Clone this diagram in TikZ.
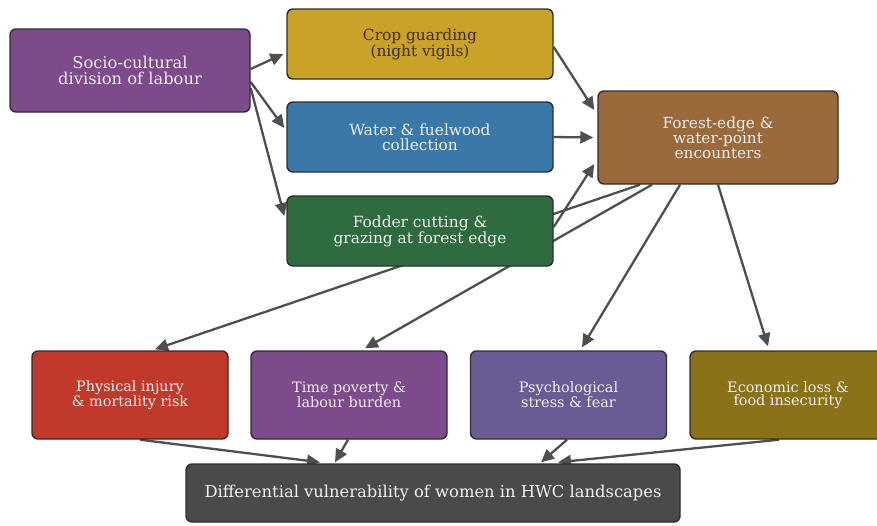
\documentclass[tikz,border=0pt]{standalone}
\usepackage{fontspec}
\setmainfont{DejaVu Serif}
\usetikzlibrary{arrows.meta,calc}
\pgfdeclarelayer{bg}
\pgfsetlayers{bg,main}
\definecolor{cSocio}{HTML}{7D4A8C}
\definecolor{cCrop}{HTML}{C9A227}
\definecolor{cWater}{HTML}{3A78A9}
\definecolor{cFodder}{HTML}{2E6B3E}
\definecolor{cForest}{HTML}{9A6A3D}
\definecolor{cPhys}{HTML}{C0392B}
\definecolor{cPsych}{HTML}{6B5B95}
\definecolor{cEcon}{HTML}{8B7118}
\definecolor{cDiff}{HTML}{4A4A4A}
\definecolor{boxline}{HTML}{2E2E2E}
\definecolor{edgecol}{HTML}{4F4F4F}
\definecolor{lighttext}{HTML}{F0F0F0}
\definecolor{darktext}{HTML}{3A2C05}
\begin{document}
\begin{tikzpicture}[x=1pt,y=-1pt,
  box/.style={draw=boxline, line width=1.4pt, rounded corners=6pt, inner sep=0pt,
    align=center, text=lighttext, font=\fontsize{15.4}{14.6}\selectfont},
  toprow/.style={box, minimum width=266pt, minimum height=70pt},
  botrow/.style={box, minimum width=196pt, minimum height=88pt, font=\fontsize{14.4}{13.6}\selectfont},
  conn/.style={draw=edgecol, line width=2.3pt, -{Triangle[length=13pt,width=12pt]}}]
\useasboundingbox (0,0) rectangle (877,525);

\node[box, fill=cSocio, minimum width=240pt, minimum height=83pt, font=\fontsize{16.3}{16}\selectfont] (socio) at (130,70.5) {Socio-cultural\\division of labour};
\node[toprow, fill=cCrop, text=darktext] (crop) at (420,44) {Crop guarding\\(night vigils)};
\node[toprow, fill=cWater] (water) at (420,137) {Water \& fuelwood\\collection};
\node[toprow, fill=cFodder] (fodder) at (420,231) {Fodder cutting \&\\grazing at forest edge};
\node[box, fill=cForest, minimum width=240pt, minimum height=93pt, font=\fontsize{15.3}{15}\selectfont] (forest) at (718,137.5) {Forest-edge \&\\water-point\\encounters};
\node[botrow, fill=cPhys] (phys) at (130,395) {Physical injury\\\& mortality risk};
\node[botrow, fill=cSocio] (time) at (349,395) {Time poverty \&\\labour burden};
\node[botrow, fill=cPsych] (psych) at (568.5,395) {Psychological\\stress \& fear};
\node[botrow, fill=cEcon] (econ) at (788,395) {Economic loss \&\\food insecurity};
\node[box, fill=cDiff, minimum width=494pt, minimum height=58pt, font=\fontsize{16.35}{17}\selectfont] (diff) at (433,493) {Differential vulnerability of women in HWC landscapes};

\begin{pgfonlayer}{bg}
\draw[conn] ([yshift=1.5pt]socio.east) -- ([xshift=-3pt,yshift=-10pt]crop.west);
\draw[conn] ([yshift=-11.5pt]socio.east) -- ([xshift=-2pt,yshift=9pt]water.west);
\draw[conn] ([yshift=-17.5pt]socio.east) -- ([xshift=-2pt,yshift=15pt]fodder.west);
\draw[conn] ([yshift=-3pt]crop.east) -- ([xshift=-3pt,yshift=27.5pt]forest.west);
\draw[conn] (water.east) -- ([xshift=-4pt]forest.west);
\draw[conn] ([yshift=4pt]fodder.east) -- ([xshift=-3pt,yshift=-26.5pt]forest.west);
\draw[conn] ([xshift=-78pt]forest.south) -- ([xshift=25pt,yshift=1pt]phys.north);
\draw[conn] ([xshift=-66pt]forest.south) -- ([xshift=16pt,yshift=2pt]time.north);
\draw[conn] ([xshift=-38pt]forest.south) -- ([xshift=13.5pt,yshift=3pt]psych.north);
\draw[conn] (forest.south) -- ([xshift=-20pt,yshift=4pt]econ.north);
\draw[conn] ([xshift=10pt]phys.south) -- ([xshift=-113pt,yshift=1pt]diff.north);
\draw[conn] ([xshift=-1pt]time.south) -- ([xshift=-98pt,yshift=1pt]diff.north);
\draw[conn] ([xshift=-1.5pt]psych.south) -- ([xshift=108pt,yshift=1pt]diff.north);
\draw[conn] ([xshift=-9pt]econ.south) -- ([xshift=125pt,yshift=1pt]diff.north);
\end{pgfonlayer}
\end{tikzpicture}
\end{document}
